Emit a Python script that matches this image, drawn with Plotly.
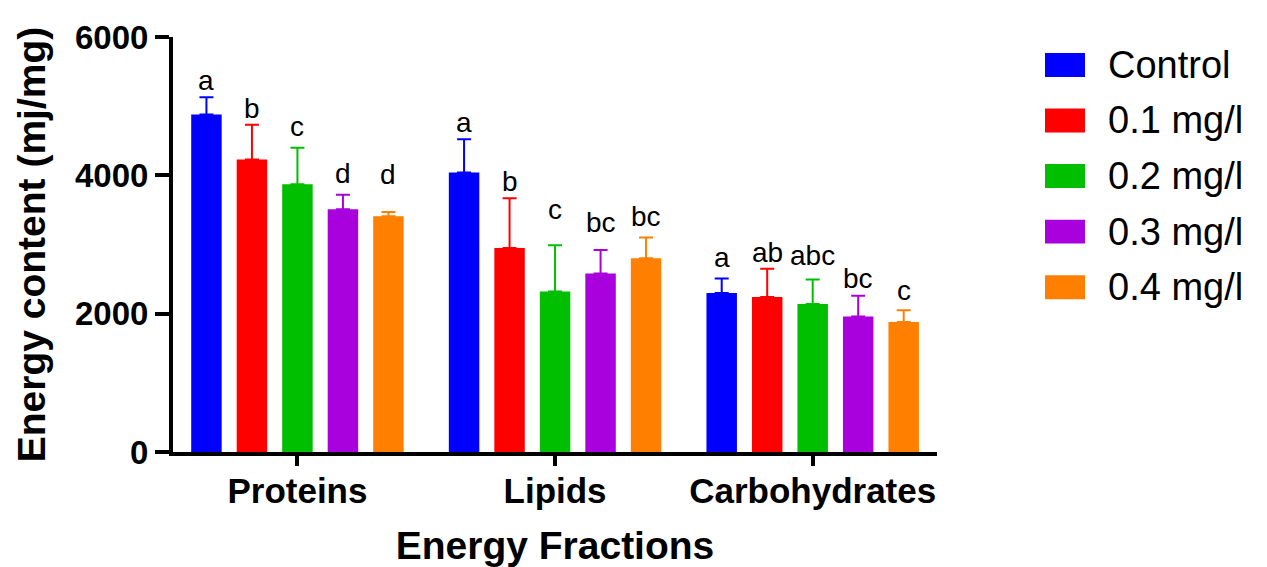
import plotly.graph_objects as go

# Energy fractions measured for each treatment group
fractions = ["Proteins", "Lipids", "Carbohydrates"]
groups = ["Control", "0.1 mg/l", "0.2 mg/l", "0.3 mg/l", "0.4 mg/l"]

control_mean = [4880, 4040, 2300]
dose01_mean = [4230, 2950, 2240]
dose02_mean = [3870, 2320, 2140]
dose03_mean = [3510, 2580, 1960]
dose04_mean = [3410, 2800, 1880]

control_sd = [250, 480, 210]
dose01_sd = [500, 720, 410]
dose02_sd = [530, 670, 355]
dose03_sd = [210, 340, 300]
dose04_sd = [60, 300, 170]

# Significance letters per bar
control_sig = ["a", "a", "a"]
dose01_sig = ["b", "b", "ab"]
dose02_sig = ["c", "c", "abc"]
dose03_sig = ["d", "bc", "bc"]
dose04_sig = ["d", "bc", "c"]

y_ticks = [0, 2000, 4000, 6000]

means = [control_mean, dose01_mean, dose02_mean, dose03_mean, dose04_mean]
sds = [control_sd, dose01_sd, dose02_sd, dose03_sd, dose04_sd]
sigs = [control_sig, dose01_sig, dose02_sig, dose03_sig, dose04_sig]

colors = ["#0000FF", "#FF0000", "#00BE00", "#A900DE", "#FF8000"]
# extra lift (px) of each letter above its error cap
letter_lift = [
    [-1, -1, 3],
    [-1, -1, -1],
    [4, 18, 6],
    [4, 10, 0],
    [20, 4, 2],
]

FONT = "Liberation Sans, Arial, sans-serif"
BARGAP = 0.117
BARGROUPGAP = 0.33

fig = go.Figure()
for name, m, s, c in zip(groups, means, sds, colors):
    fig.add_trace(go.Bar(
        x=fractions, y=m, name=name,
        marker=dict(color=c, line=dict(width=0)),
        error_y=dict(type="data", array=s, arrayminus=[0] * len(s), symmetric=False,
                     color=c, thickness=2, width=7),
        showlegend=False,
    ))

# letters above each error bar
n = len(groups)
slot = (1 - BARGAP) / n
for gi in range(n):
    for ci in range(len(fractions)):
        fig.add_annotation(
            x=ci + (gi - (n - 1) / 2) * slot,
            y=means[gi][ci] + sds[gi][ci],
            text=sigs[gi][ci], showarrow=False,
            yanchor="bottom", xanchor="center",
            yshift=letter_lift[gi][ci],
            font=dict(family=FONT, size=28, color="black"),
        )

# legend drawn as swatches + labels to the right of the plot
L, R, T, B = 173, 330, 36.5, 114.5
W, H = 1267 - L - R, 567 - T - B
def px_x(v):
    return (v - L) / W
def px_y(v):
    return (567 - B - v) / H

row0, row_step = 64.5, 55.7
for i, (name, c) in enumerate(zip(groups, colors)):
    cy = row0 + i * row_step
    fig.add_shape(type="rect", xref="paper", yref="paper",
                  x0=px_x(1045), x1=px_x(1085), y0=px_y(cy + 12), y1=px_y(cy - 12),
                  fillcolor=c, line=dict(width=0))
    fig.add_annotation(xref="paper", yref="paper", x=px_x(1106), y=px_y(cy),
                       text=name, showarrow=False, xanchor="left", yanchor="middle",
                       font=dict(family=FONT, size=38, color="black"))

fig.update_layout(
    width=1267, height=567,
    margin=dict(l=L, r=R, t=T, b=B, autoexpand=False),
    paper_bgcolor="white", plot_bgcolor="white",
    barmode="group", bargap=BARGAP, bargroupgap=BARGROUPGAP,
    font=dict(family=FONT, color="black"),
)
fig.update_xaxes(
    range=[-0.483, 2.4825], showline=True, linecolor="black", linewidth=4,
    ticks="outside", ticklen=10, tickwidth=4, tickcolor="black",
    showgrid=False, zeroline=False, ticklabelstandoff=-5,
    tickfont=dict(family=FONT, size=35, weight="bold"),
    title=dict(text="Energy Fractions", font=dict(family=FONT, size=39, weight="bold"), standoff=24),
)
fig.update_yaxes(
    range=[0, 6000], tickvals=y_ticks, showline=True, linecolor="black", linewidth=4,
    ticks="outside", ticklen=14, tickwidth=4, tickcolor="black",
    showgrid=False, zeroline=False,
    tickfont=dict(family=FONT, size=33, weight="bold"),
    title=dict(text="Energy content (mj/mg)", font=dict(family=FONT, size=39, weight="bold"), standoff=18),
)

fig.write_html("out.html")
